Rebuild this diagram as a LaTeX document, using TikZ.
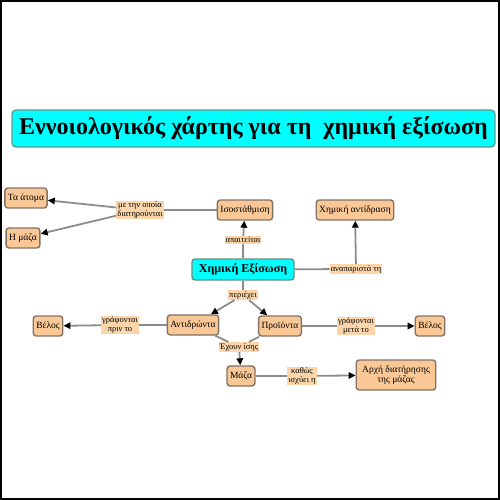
\documentclass[tikz,border=0pt]{standalone}
\usepackage{fontspec}
\setmainfont{Liberation Serif}
\usetikzlibrary{arrows.meta}
\definecolor{peach}{RGB}{250,200,150}
\definecolor{lpeach}{RGB}{252,214,170}
\definecolor{nborder}{RGB}{130,115,100}
\definecolor{cyanbox}{RGB}{0,255,255}
\definecolor{lnk}{RGB}{140,140,140}
\tikzset{
  concept/.style={draw=nborder, line width=1.4pt, fill=peach, rounded corners=3pt,
    font=\fontsize{9.5}{10.5}\selectfont, inner sep=3pt, minimum height=20pt, align=center},
  maincon/.style={draw=nborder!80!cyan, line width=1.4pt, fill=cyanbox, rounded corners=3pt,
    font=\bfseries\fontsize{12}{13}\selectfont, inner sep=3pt, minimum height=21pt, minimum width=102pt},
  linklab/.style={fill=lpeach, font=\fontsize{8.5}{9}\selectfont, inner sep=1pt, align=center},
  conn/.style={draw=lnk, line width=1.8pt},
  arr/.style={conn, -{Triangle[length=7pt,width=6.5pt,fill=black,color=black]}},
}
\begin{document}
\begin{tikzpicture}[x=1pt,y=-1pt]
\useasboundingbox (0,0) rectangle (500,500);
\fill[white] (0,0) rectangle (500,500);
\draw[black, line width=2pt] (1,1) rectangle (499,499);

\node[draw=nborder!70!cyan, line width=1.4pt, fill=cyanbox, rounded corners=4pt,
  minimum width=483pt, minimum height=37pt, inner sep=0pt,
  font=\bfseries\fontsize{24}{26}\selectfont] (title) at (253.5,128.5)
  {Εννοιολογικός χάρτης για τη\ \ χημική εξίσωση};

\node[concept] (atoma) at (26,198) {Τα άτομα};
\node[concept] (maza1) at (23,238) {Η μάζα};
\node[linklab] (lnA) at (140,210) {με την οποία\\διατηρούνται};
\node[concept] (isost) at (245,210) {Ισοστάθμιση};
\node[concept] (xant) at (355,210) {Χημική αντίδραση};
\node[linklab] (lnB) at (243,240) {απαιτείται};
\node[maincon] (xex) at (243,269.5) {Χημική Εξίσωση};
\node[linklab] (lnC) at (356,269) {αναπαριστά τη};
\node[linklab] (lnD) at (243,295) {περιέχει};
\node[concept] (antid) at (193,325) {Αντιδρώντα};
\node[concept] (proi) at (280,326) {Προϊόντα};
\node[linklab] (lnE) at (120,325) {γράφονται\\πριν το};
\node[concept] (belL) at (48,326) {Βέλος};
\node[linklab] (lnF) at (356,326) {γράφονται\\μετά το};
\node[concept] (belR) at (430,326) {Βέλος};
\node[linklab] (lnG) at (239,347) {Έχουν ίσης};
\node[concept] (maza2) at (241,376) {Μάζα};
\node[linklab] (lnH) at (302,376) {καθώς\\ισχύει η};
\node[concept, minimum height=30pt, inner xsep=6pt] (arxi) at (396,375) {Αρχή διατήρησης\\της μάζας};

\draw[conn] (isost) -- (lnA);
\draw[arr] (lnA) -- (atoma);
\draw[arr] (lnA) -- (maza1);
\draw[conn] (xex) -- (lnB);
\draw[arr] (lnB) -- (isost);
\draw[conn] (xex) -- (lnC);
\draw[arr] (lnC) -- (xant);
\draw[conn] (xex) -- (lnD);
\draw[arr] (lnD) -- (antid);
\draw[arr] (lnD) -- (proi);
\draw[conn] (antid) -- (lnE);
\draw[arr] (lnE) -- (belL);
\draw[conn] (proi) -- (lnF);
\draw[arr] (lnF) -- (belR);
\draw[conn] (antid) -- (lnG);
\draw[conn] (proi) -- (lnG);
\draw[arr] (lnG) -- (maza2);
\draw[conn] (maza2) -- (lnH);
\draw[arr] (lnH) -- (arxi);
\end{tikzpicture}
\end{document}
